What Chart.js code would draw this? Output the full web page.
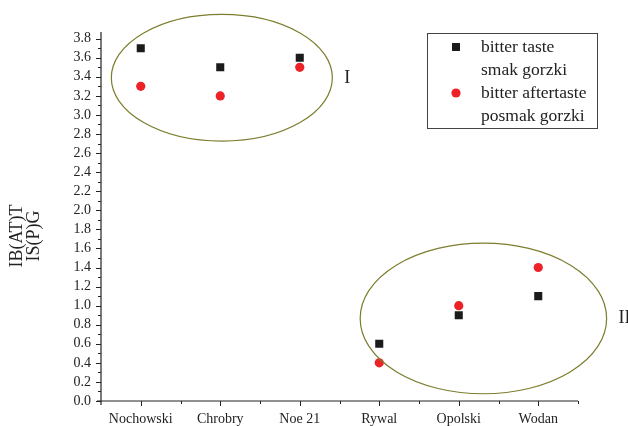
<!DOCTYPE html>
<html>
<head>
<meta charset="utf-8">
<script src="https://cdn.jsdelivr.net/npm/chart.js@4"></script>
<style>
  body { margin: 0; background: #fff; }
  canvas { display: block; }
</style>
</head>
<body>
<canvas id="bitterChart" width="628" height="426"></canvas>
<script>
// Data
const varieties = ['Nochowski', 'Chrobry', 'Noe 21', 'Rywal', 'Opolski', 'Wodan'];
const bitterTaste = [3.7, 3.5, 3.6, 0.6, 0.9, 1.1];
const bitterAftertaste = [3.3, 3.2, 3.5, 0.4, 1.0, 1.4];
const yTicks = [0.0, 0.2, 0.4, 0.6, 0.8, 1.0, 1.2, 1.4, 1.6, 1.8, 2.0, 2.2, 2.4, 2.6, 2.8, 3.0, 3.2, 3.4, 3.6, 3.8];
const legendLines = [['bitter taste', 'smak gorzki'], ['bitter aftertaste', 'posmak gorzki']];
const yTitle = ['IB(AT)T', 'IS(P)G'];

// cluster ellipses (category index / value units)
const groups = [
    { label: 'I', cx: 1.02, cy: 3.39, rx: 1.39, ry: 0.665 },
    { label: 'II', cx: 4.31, cy: 0.866, rx: 1.55, ry: 0.79 }
];

const ink = '#222';
const serif = '"Liberation Serif", "DejaVu Serif", serif';

const extras = {
    id: 'extras',
    afterDraw(chart) {
        const ctx = chart.ctx;
        const x = chart.scales.x;
        const y = chart.scales.y;
        const area = chart.chartArea;
        ctx.save();

        // axis lines
        ctx.strokeStyle = ink;
        ctx.lineWidth = 1.2;
        ctx.beginPath();
        ctx.moveTo(area.left, area.top);
        ctx.lineTo(area.left, area.bottom + 4);
        ctx.moveTo(area.left - 4, area.bottom);
        ctx.lineTo(area.right, area.bottom);
        ctx.stroke();

        // y ticks
        ctx.lineWidth = 1;
        ctx.beginPath();
        yTicks.forEach(v => {
            const py = Math.round(y.getPixelForValue(v)) + 0.5;
            ctx.moveTo(area.left - 5, py);
            ctx.lineTo(area.left, py);
            const pm = Math.round(y.getPixelForValue(v + 0.1)) + 0.5;
            if (pm > area.top) {
                ctx.moveTo(area.left - 3, pm);
                ctx.lineTo(area.left, pm);
            }
        });
        // x ticks
        varieties.forEach((c, i) => {
            const px = Math.round(x.getPixelForValue(i)) + 0.5;
            ctx.moveTo(px, area.bottom);
            ctx.lineTo(px, area.bottom + 5);
            const pm = Math.round(x.getPixelForValue(i + 0.5)) + 0.5;
            ctx.moveTo(pm, area.bottom);
            ctx.lineTo(pm, area.bottom + 3);
        });
        ctx.stroke();

        // ellipses
        ctx.strokeStyle = '#7d7d2e';
        ctx.lineWidth = 1.2;
        ctx.fillStyle = ink;
        ctx.font = '18px ' + serif;
        ctx.textBaseline = 'middle';
        groups.forEach(g => {
            const cx = x.getPixelForValue(g.cx);
            const cy = y.getPixelForValue(g.cy);
            const rx = x.getPixelForValue(g.cx + g.rx) - cx;
            const ry = cy - y.getPixelForValue(g.cy + g.ry);
            ctx.beginPath();
            ctx.ellipse(cx, cy, rx, ry, 0, 0, Math.PI * 2);
            ctx.stroke();
            ctx.textAlign = 'left';
            ctx.fillText(g.label, cx + rx + 12, cy);
        });

        // y title
        ctx.save();
        ctx.translate(17, 236);
        ctx.rotate(-Math.PI / 2);
        ctx.textAlign = 'center';
        ctx.font = '18px ' + serif;
        ctx.fillText(yTitle[0], 0, 0);
        ctx.fillText(yTitle[1], 0, 17);
        ctx.restore();

        // legend
        ctx.strokeStyle = '#444';
        ctx.lineWidth = 1;
        ctx.strokeRect(427.5, 33.5, 170, 95);
        ctx.font = '17.5px ' + serif;
        ctx.textAlign = 'left';
        chart.data.datasets.forEach((ds, i) => {
            const ly = 47 + i * 46;
            ctx.fillStyle = ds.backgroundColor;
            ctx.beginPath();
            if (ds.pointStyle === 'rect') {
                ctx.rect(452, ly - 4, 8, 8);
            } else {
                ctx.arc(456, ly, ds.pointRadius, 0, Math.PI * 2);
            }
            ctx.fill();
            ctx.fillStyle = ink;
            ctx.fillText(legendLines[i][0], 481, ly);
            ctx.fillText(legendLines[i][1], 481, ly + 23);
        });

        ctx.restore();
    }
};

new Chart(document.getElementById('bitterChart').getContext('2d'), {
    type: 'scatter',
    data: {
        labels: varieties,
        datasets: [{
            label: legendLines[0].join(' '),
            data: bitterTaste.map((v, i) => ({ x: varieties[i], y: v })),
            pointStyle: 'rect',
            pointRadius: 5.7,
            backgroundColor: '#1b1b1b',
            borderWidth: 0
        }, {
            label: legendLines[1].join(' '),
            data: bitterAftertaste.map((v, i) => ({ x: varieties[i], y: v })),
            pointStyle: 'circle',
            pointRadius: 4.6,
            backgroundColor: '#ec2227',
            borderWidth: 0
        }]
    },
    options: {
        responsive: false,
        animation: false,
        layout: { padding: { top: 32, right: 50, left: 0, bottom: 0 } },
        plugins: {
            legend: { display: false },
            tooltip: { enabled: false }
        },
        scales: {
            x: {
                type: 'category',
                offset: true,
                grid: { display: false, drawTicks: false },
                border: { display: false },
                ticks: {
                    padding: 10,
                    color: ink,
                    font: { family: serif, size: 14 },
                    maxRotation: 0,
                    autoSkip: false
                },
                afterFit(scale) { scale.height = 25; }
            },
            y: {
                min: 0,
                max: 3.87,
                grid: { display: false, drawTicks: false },
                border: { display: false },
                afterBuildTicks(scale) { scale.ticks = yTicks.map(v => ({ value: v })); },
                ticks: {
                    padding: 10,
                    autoSkip: false,
                    color: ink,
                    font: { family: serif, size: 14 },
                    callback: v => v.toFixed(1)
                },
                afterFit(scale) { scale.width = 101; }
            }
        }
    },
    plugins: [extras]
});
</script>
</body>
</html>
